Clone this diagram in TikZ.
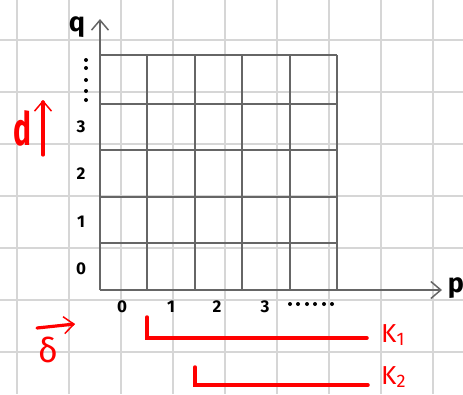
\documentclass[tikz,border=0pt]{standalone}
\usepackage{fontspec}
\setmainfont{Fira Sans}
\usepackage{xcolor}
\definecolor{paperline}{gray}{0.84}
\definecolor{gridgray}{gray}{0.4}
\definecolor{inkred}{rgb}{1.0, 0.0, 0.0}
\usetikzlibrary{arrows.meta,positioning}
\tikzset{
  >={Straight Barb[length=10pt,width=17pt,line width=1.5pt]},
  paper/.style={draw=paperline,line width=1.5pt},
  cell/.style={draw=gridgray,line width=1.6pt},
  axis/.style={->,draw=gridgray,line width=1.6pt},
  axlabel/.style={font=\bfseries\fontsize{27}{27}\selectfont,inner sep=0pt},
  tick/.style={font=\bfseries\fontsize{17}{17}\selectfont,inner sep=0pt},
  dot/.style={circle,fill=black,inner sep=0pt,minimum size=4pt},
  redlabel/.style={text=inkred,inner sep=0pt},
  redarrow/.style={->,draw=inkred,line width=3.2pt,line cap=round},
  bracket/.style={draw=inkred,line width=3.5pt,line cap=round}
}

\begin{document}
\begin{tikzpicture}[x=1pt,y=-1pt]
  \useasboundingbox (0,0) rectangle (463,394);
  % paper background
  \fill[white] (0,0) rectangle (463,394);
  \foreach \x in {17,69,...,433} \draw[paper] (\x,0) -- (\x,394);
  \foreach \y in {40,92,...,352} \draw[paper] (0,\y) -- (463,\y);

  % cells and axes
  \coordinate (origin) at (100,290);
  \coordinate (pend) at (442,290);
  \coordinate (qend) at (100,19);
  \foreach \x in {147,195,242,290,337} \draw[cell] (\x,55) -- (\x,290);
  \foreach \y in {55,104,150,197,243} \draw[cell] (100,\y) -- (337,\y);
  \draw[axis] (origin) -- (pend);
  \draw[axis] (origin) -- (qend);

  \node[axlabel] (q) at (77,27) {q};
  \node[axlabel] (p) at (456,288) {p};

  % ticks
  \foreach \n/\y in {0/269,1/222,2/174,3/127} \node[tick] (q\n) at (81,\y) {\n};
  \foreach \n/\x in {0/122,1/171,2/217,3/265} \node[tick] (p\n) at (\x,307) {\n};
  \foreach \y [count=\i] in {60,68,80,91,100} \node[dot] (qdot\i) at (86,\y) {};
  \foreach \x [count=\i] in {290,298,307,315,324,332} \node[dot] (pdot\i) at (\x,304) {};

  % red notes
  \node[redlabel,font=\bfseries\fontsize{46}{46}\selectfont,xscale=0.65] (d) at (22,128) {d};
  \coordinate (dtail) at (43,155);
  \coordinate (dhead) at (43,100);
  \draw[redarrow] (dtail) -- (dhead);

  \node[redlabel,font=\fontsize{34}{34}\selectfont] (delta) at (48,350) {δ};
  \coordinate (stail) at (37,328);
  \coordinate (shead) at (75,324);
  \draw[redarrow] (stail) -- (shead);

  \node[redlabel,font=\fontsize{26}{26}\selectfont,anchor=base west] (k1) at (381,342) {K\textsubscript{1}};
  \coordinate (k1top) at (147,317);
  \coordinate (k1end) at (367,338);
  \draw[bracket] (k1top) |- (k1end);

  \node[redlabel,font=\fontsize{26}{26}\selectfont,anchor=base west] (k2) at (381,384) {K\textsubscript{2}};
  \coordinate (k2top) at (195,367);
  \coordinate (k2end) at (368,385);
  \draw[bracket] (k2top) |- (k2end);
\end{tikzpicture}
\end{document}
